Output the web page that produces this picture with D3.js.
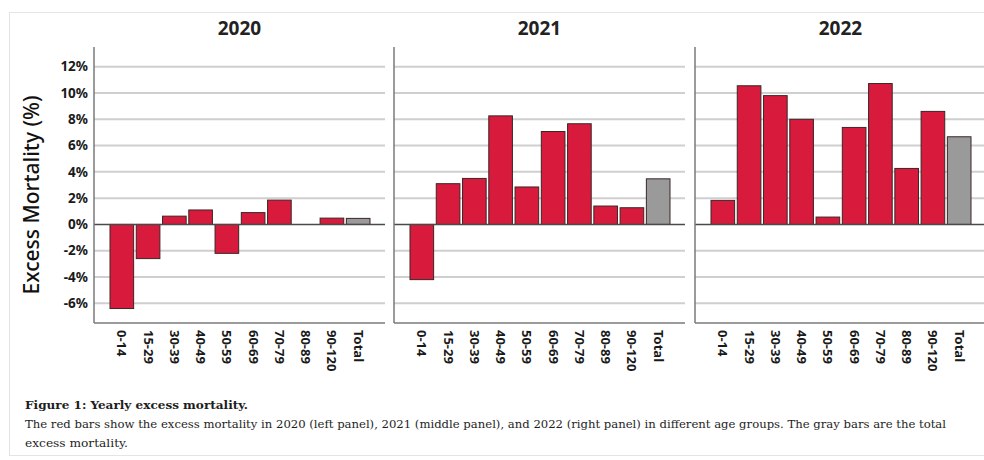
<!DOCTYPE html>
<html>
<head>
<meta charset="utf-8">
<script src="https://cdn.jsdelivr.net/npm/d3@7"></script>
<style>
  html, body { margin: 0; padding: 0; background: #fff; }
  svg { display: block; }
</style>
</head>
<body>
<svg id="chart" width="984" height="460"></svg>
<script>
const categories = ['0-14', '15-29', '30-39', '40-49', '50-59', '60-69', '70-79', '80-89', '90-120', 'Total'];
const years = ['2020', '2021', '2022'];
const values2020 = [-6.4, -2.6, 0.63, 1.1, -2.2, 0.9, 1.85, 0.0, 0.48, 0.46];
const values2021 = [-4.2, 3.1, 3.5, 8.26, 2.85, 7.07, 7.66, 1.4, 1.27, 3.47];
const values2022 = [1.83, 10.55, 9.8, 8.0, 0.56, 7.38, 10.72, 4.26, 8.6, 6.67];
const yTicks = [-6, -4, -2, 0, 2, 4, 6, 8, 10, 12];
const captionLines = [
  'Figure 1: Yearly excess mortality.',
  'The red bars show the excess mortality in 2020 (left panel), 2021 (middle panel), and 2022 (right panel) in different age groups. The gray bars are the total',
  'excess mortality.'
];

const svg = d3.select('#chart');
const sans = "'Noto Sans', 'Open Sans', Roboto, sans-serif";
const serif = "'DejaVu Serif Condensed', 'DejaVu Serif', serif";

// outer figure frame
svg.append('rect')
  .attr('x', 9.5).attr('y', 12.5)
  .attr('width', 990).attr('height', 443)
  .attr('fill', 'none')
  .attr('stroke', '#e4e4e4');

const y = d3.scaleLinear().domain([-7.5, 13.5]).range([323, 47]);
const panelWidth = 291;
const panels = [
  { year: years[0], values: values2020, x0: 94 },
  { year: years[1], values: values2021, x0: 394 },
  { year: years[2], values: values2022, x0: 695 },
];

panels.forEach((p) => {
  const g = svg.append('g');
  const x = d3.scaleBand()
    .domain(categories)
    .range([p.x0 + 16, p.x0 + 276])
    .paddingInner(0.1)
    .paddingOuter(0);

  // gridlines
  g.append('g')
    .selectAll('line')
    .data(yTicks.filter((t) => t !== 0))
    .join('line')
    .attr('x1', p.x0).attr('x2', p.x0 + panelWidth)
    .attr('y1', (d) => y(d)).attr('y2', (d) => y(d))
    .attr('stroke', '#cfcfcf')
    .attr('stroke-width', 2);

  // bars
  const data = categories.map((c, i) => ({ cat: c, value: p.values[i] }));
  g.append('g')
    .selectAll('rect')
    .data(data)
    .join('rect')
    .attr('x', (d) => x(d.cat))
    .attr('width', x.bandwidth())
    .attr('y', (d) => y(Math.max(0, d.value)))
    .attr('height', (d) => Math.abs(y(d.value) - y(0)))
    .attr('fill', (d) => d.cat === 'Total' ? '#9a9a9a' : '#d81b3c')
    .attr('stroke', '#3a2626')
    .attr('stroke-width', 1);

  // zero line
  g.append('line')
    .attr('x1', p.x0).attr('x2', p.x0 + panelWidth)
    .attr('y1', y(0)).attr('y2', y(0))
    .attr('stroke', '#4a4a4a')
    .attr('stroke-width', 1.6);

  // frame axes
  g.append('line')
    .attr('x1', p.x0).attr('x2', p.x0)
    .attr('y1', 47).attr('y2', 323)
    .attr('stroke', '#7a7a7a').attr('stroke-width', 1.5);
  g.append('line')
    .attr('x1', p.x0).attr('x2', p.x0 + panelWidth)
    .attr('y1', 323).attr('y2', 323)
    .attr('stroke', '#7a7a7a').attr('stroke-width', 1.5);

  // category labels, rotated
  g.append('g')
    .selectAll('text')
    .data(categories)
    .join('text')
    .attr('transform', (d) => `translate(${x(d) + x.bandwidth() / 2},330) rotate(90)`)
    .attr('dy', '0.35em')
    .attr('font-family', sans)
    .attr('font-weight', 700)
    .attr('font-size', 13)
    .attr('fill', '#1a1a1a')
    .text((d) => d);

  // panel title
  g.append('text')
    .attr('x', p.x0 + panelWidth / 2)
    .attr('y', 35)
    .attr('text-anchor', 'middle')
    .attr('font-family', sans)
    .attr('font-weight', 700)
    .attr('font-size', 19)
    .attr('fill', '#222')
    .text(p.year);
});

// y tick labels
svg.append('g')
  .selectAll('text')
  .data(yTicks)
  .join('text')
  .attr('x', 88)
  .attr('y', (d) => y(d))
  .attr('dy', '0.35em')
  .attr('text-anchor', 'end')
  .attr('font-family', sans)
  .attr('font-weight', 700)
  .attr('font-size', 13.5)
  .attr('fill', '#1a1a1a')
  .text((d) => `${d}%`);

// y axis title
svg.append('text')
  .attr('transform', 'translate(39,195) rotate(-90)')
  .attr('text-anchor', 'middle')
  .attr('font-family', sans)
  .attr('font-weight', 500)
  .attr('font-size', 21)
  .attr('fill', '#111')
  .text('Excess Mortality (%)');

// caption
const capLengths = [223, 921, 103];
svg.append('g')
  .selectAll('text')
  .data(captionLines)
  .join('text')
  .attr('x', 25)
  .attr('y', (d, i) => 409 + i * 19)
  .attr('font-family', serif)
  .attr('font-weight', (d, i) => i === 0 ? 700 : 400)
  .attr('font-size', 11)
  .attr('fill', '#1e1e1e')
  .attr('textLength', (d, i) => capLengths[i])
  .attr('lengthAdjust', 'spacingAndGlyphs')
  .text((d) => d);
</script>
</body>
</html>
